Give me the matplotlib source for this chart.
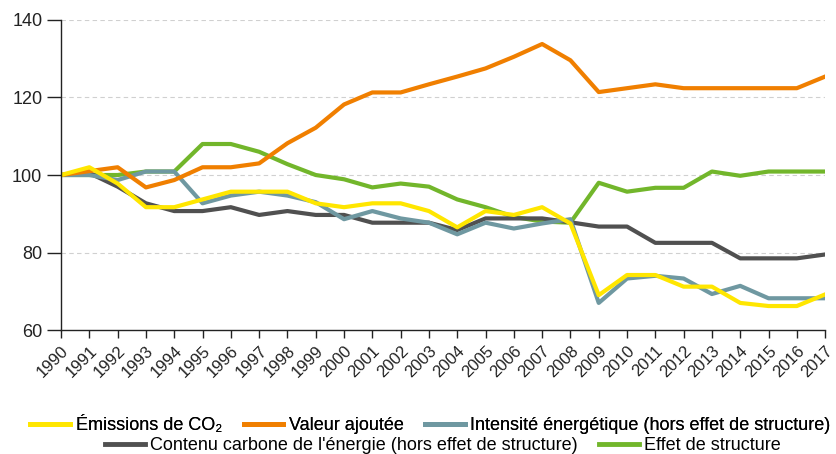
import matplotlib
matplotlib.use("Agg")
import matplotlib.pyplot as plt
from matplotlib.lines import Line2D

plt.rcParams['font.family'] = ['Liberation Sans Narrow', 'Liberation Sans', 'DejaVu Sans']

years = list(range(1990, 2018))

emissions = [100, 102, 97.8, 91.7, 91.7, 93.7, 95.7, 95.7, 95.7, 92.7, 91.7, 92.7, 92.7, 90.7,
             86.5, 90.7, 89.7, 91.7, 87.5, 69, 74.2, 74.2, 71.2, 71.2, 67, 66.2, 66.2, 69.2]
valeur = [100, 101, 102, 96.8, 98.7, 102, 102, 103, 108.2, 112.2, 118.2, 121.3, 121.3, 123.4,
          125.4, 127.5, 130.5, 133.8, 129.6, 121.4, 122.4, 123.4, 122.4, 122.4, 122.4, 122.4, 122.4, 125.4]
intensite = [100, 100, 98.7, 100.9, 100.9, 92.7, 94.7, 95.7, 94.7, 93, 88.6, 90.7, 88.8, 87.7,
             84.7, 87.7, 86.2, 87.5, 88.6, 67, 73.3, 74, 73.3, 69.3, 71.4, 68.2, 68.2, 68.2]
contenu = [100, 100.5, 97, 92.7, 90.7, 90.7, 91.7, 89.7, 90.7, 89.7, 89.7, 87.7, 87.7, 87.7,
           85.8, 88.8, 88.8, 88.8, 87.8, 86.7, 86.7, 82.5, 82.5, 82.5, 78.5, 78.5, 78.5, 79.5]
structure = [100, 100, 100, 100.9, 100.9, 108, 108, 106, 102.8, 100, 98.9, 96.8, 97.8, 97,
             93.7, 91.7, 89.2, 88, 87.7, 98, 95.7, 96.7, 96.7, 100.9, 99.8, 100.9, 100.9, 100.9]

c_yellow = '#FFE600'
c_orange = '#F07F00'
c_blue = '#6F98A1'
c_grey = '#505050'
c_green = '#72B62B'

fig = plt.figure(figsize=(8.36, 4.54), dpi=100)
ax = fig.add_axes([0.073, 0.273, 0.914, 0.683])

lw = 3
ax.plot(years, structure, color=c_green, lw=lw)
ax.plot(years, contenu, color=c_grey, lw=lw)
ax.plot(years, intensite, color=c_blue, lw=lw)
ax.plot(years, valeur, color=c_orange, lw=lw)
ax.plot(years, emissions, color=c_yellow, lw=lw)

ax.set_xlim(1990, 2017)
ax.set_ylim(60, 140)
ax.set_yticks([60, 80, 100, 120, 140])
ax.set_xticks(years)
ax.set_xticklabels([str(y) for y in years], rotation=45, ha='right',
                   rotation_mode='anchor', fontsize=12)
ax.tick_params(axis='y', length=10, width=1, labelsize=13, colors='#222222')
ax.tick_params(axis='x', length=6, width=1, colors='#222222')

for yv in [80, 100, 120, 140]:
    ax.axhline(yv, color='#d0d0d0', lw=0.8, ls=(0, (4, 3)), zorder=0)

for s in ['top', 'right']:
    ax.spines[s].set_visible(False)
for s in ['left', 'bottom']:
    ax.spines[s].set_color('#222222')
    ax.spines[s].set_linewidth(1)

def handle(c):
    return Line2D([0], [0], color=c, lw=3.5)

leg1 = fig.legend([handle(c_yellow), handle(c_orange), handle(c_blue)],
                  ['Émissions de CO₂', 'Valeur ajoutée',
                   'Intensité énergétique (hors effet de structure)'],
                  loc='center', bbox_to_anchor=(0.515, 0.063), ncol=3, frameon=False,
                  fontsize=13, handlelength=2.2, handletextpad=0.3, columnspacing=1.2)
leg2 = fig.legend([handle(c_grey), handle(c_green)],
                  ["Contenu carbone de l'énergie (hors effet de structure)", 'Effet de structure'],
                  loc='center', bbox_to_anchor=(0.53, 0.018), ncol=2, frameon=False,
                  fontsize=13, handlelength=2.2, handletextpad=0.3, columnspacing=1.2)
fig.add_artist(leg1)

fig.savefig('out.png', dpi=100)
